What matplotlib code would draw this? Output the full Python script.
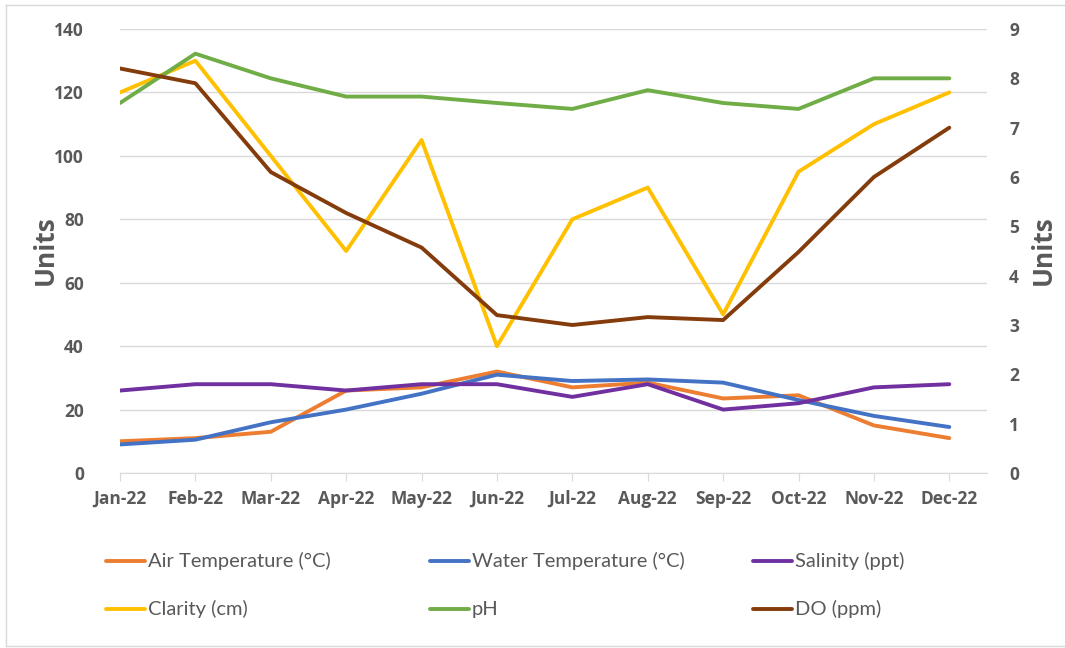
import matplotlib
matplotlib.use('Agg')
import matplotlib.pyplot as plt
from matplotlib.lines import Line2D

months = ['Jan-22', 'Feb-22', 'Mar-22', 'Apr-22', 'May-22', 'Jun-22',
          'Jul-22', 'Aug-22', 'Sep-22', 'Oct-22', 'Nov-22', 'Dec-22']

air_temp = [10, 11, 13, 26, 27, 32, 27, 28.5, 23.5, 24.5, 15, 11]
water_temp = [9, 10.5, 16, 20, 25, 31, 29, 29.5, 28.5, 23, 18, 14.5]
salinity = [26, 28, 28, 26, 28, 28, 24, 28, 20, 22, 27, 28]
clarity = [120, 130, 100, 70, 105, 40, 80, 90, 50, 95, 110, 120]
ph = [7.5, 8.5, 8.0, 7.63, 7.63, 7.5, 7.38, 7.76, 7.5, 7.38, 8.0, 8.0]
do_ppm = [8.2, 7.9, 6.1, 5.27, 4.57, 3.2, 3.0, 3.16, 3.1, 4.48, 6.0, 7.0]

TEXT = '#595959'
GRID = '#d9d9d9'
LW = 2.8

fig = plt.figure(figsize=(10.65, 6.48), dpi=100)
ax = fig.add_axes([120 / 1065, 1 - 473 / 648, 867 / 1065, 444 / 648])
ax2 = ax.twinx()

x = list(range(len(months)))
ax.plot(x, air_temp, color='#ED7D31', lw=LW, solid_capstyle='round', zorder=3)
ax.plot(x, water_temp, color='#4472C4', lw=LW, solid_capstyle='round', zorder=3)
ax.plot(x, salinity, color='#7030A0', lw=LW, solid_capstyle='round', zorder=3)
ax.plot(x, clarity, color='#FFC000', lw=LW, solid_capstyle='round', zorder=3)
ax2.plot(x, ph, color='#70AD47', lw=LW, solid_capstyle='round')
ax2.plot(x, do_ppm, color='#843C0C', lw=LW, solid_capstyle='round')

ax.set_xlim(0, 11.5)
ax.set_ylim(0, 140)
ax2.set_ylim(0, 9)
ax.set_yticks(range(0, 141, 20))
ax2.set_yticks(range(0, 10))
ax.set_xticks(x)
ax.set_xticklabels(months)

for a in (ax, ax2):
    for s in a.spines.values():
        s.set_visible(False)
ax.spines['bottom'].set_visible(True)
ax.spines['bottom'].set_color(GRID)
ax.grid(axis='y', color=GRID, lw=1)
ax.set_axisbelow(True)

tick_font = dict(family='Open Sans', weight='bold', size=12.5)
ax.tick_params(axis='y', length=0, pad=26, colors=TEXT)
ax2.tick_params(axis='y', length=0, pad=16, colors=TEXT)
ax.tick_params(axis='x', length=6, color=GRID, pad=6, colors=TEXT)
ax.tick_params(axis='x', color=GRID)
for lab in ax.get_xticklabels() + ax.get_yticklabels() + ax2.get_yticklabels():
    lab.set_fontfamily('Open Sans')
    lab.set_fontweight('bold')
    lab.set_fontsize(12.5)
    lab.set_color(TEXT)

fig.text(45 / 1065, 1 - 250 / 648, 'Units', rotation=90, ha='center', va='center',
         family='Open Sans', weight='bold', size=19, color=TEXT)
fig.text(1043 / 1065, 1 - 250 / 648, 'Units', rotation=90, ha='center', va='center',
         family='Open Sans', weight='bold', size=19, color=TEXT)

names = ['Air Temperature (°C)', 'Water Temperature (°C)', 'Salinity (ppt)',
         'Clarity (cm)', 'pH', 'DO (ppm)']
colors = ['#ED7D31', '#4472C4', '#7030A0', '#FFC000', '#70AD47', '#843C0C']
cols_x = [106, 430, 753]
rows_y = [561, 609]
for i, (name, c) in enumerate(zip(names, colors)):
    cx = cols_x[i % 3]
    ry = rows_y[i // 3]
    fig.add_artist(Line2D([cx / 1065, (cx + 39) / 1065], [1 - ry / 648] * 2,
                          color=c, lw=LW, solid_capstyle='round'))
    fig.text((cx + 42) / 1065, 1 - ry / 648, name, ha='left', va='center',
             family='Lato', size=14.5, color=TEXT)

# chart border
fig.add_artist(Line2D([6 / 1065, 6 / 1065], [1 - 5 / 648, 1 - 646 / 648], color=GRID, lw=1))
fig.add_artist(Line2D([6 / 1065, 1], [1 - 5 / 648] * 2, color=GRID, lw=1))
fig.add_artist(Line2D([6 / 1065, 1], [1 - 646 / 648] * 2, color=GRID, lw=1))

fig.savefig('out.png', dpi=100, facecolor='white')
